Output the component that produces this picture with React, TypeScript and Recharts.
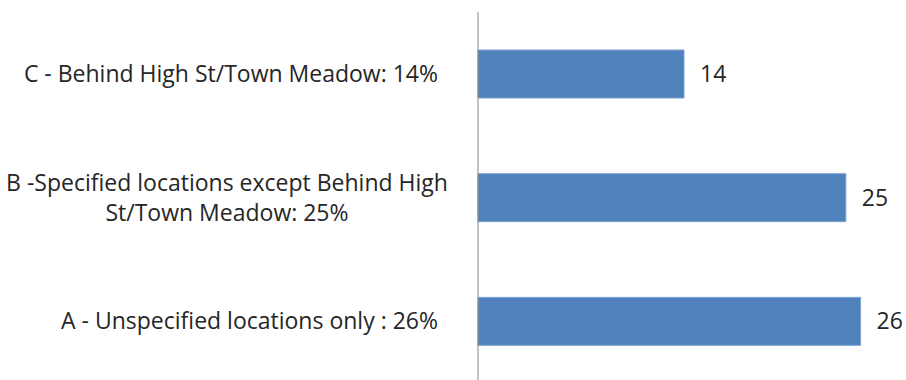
import React from "react";
import { BarChart, Bar, XAxis, YAxis, LabelList } from "recharts";

const categories = [
  "C - Behind High St/Town Meadow: 14%",
  "B -Specified locations except Behind High St/Town Meadow: 25%",
  "A - Unspecified locations only : 26%",
];
const categoryLines = [
  ["C - Behind High St/Town Meadow: 14%"],
  ["B -Specified locations except Behind High", "St/Town Meadow: 25%"],
  ["A - Unspecified locations only : 26%"],
];
const values = [14, 25, 26];

const data = categories.map((c, i) => ({ name: c, value: values[i] }));

const FONT = "'Open Sans', sans-serif";
const FS = 23;

const YTick = (props: any) => {
  const { x, y, index } = props;
  const lines = categoryLines[index] || [String(props.payload.value)];
  if (lines.length === 1) {
    return (
      <text x={x - 32} y={y} dy="0.35em" textAnchor="end" fontFamily={FONT} fontSize={FS} fill="#262626">
        {lines[0]}
      </text>
    );
  }
  const lh = 30;
  const start = -((lines.length - 1) * lh) / 2;
  return (
    <g>
      {lines.map((l: string, i: number) => (
        <text key={i} x={x - 243} y={y + start + i * lh} dy="0.35em" textAnchor="middle" fontFamily={FONT} fontSize={FS} fill="#262626">
          {l}
        </text>
      ))}
    </g>
  );
};

export default function App() {
  return (
    <div style={{ position: "absolute", left: 0, top: 0, width: 906, height: 380, overflow: "hidden", background: "#fff" }}>
      <BarChart
        width={906}
        height={390}
        data={data}
        layout="vertical"
        margin={{ top: 12, right: 16, bottom: 7, left: 0 }}
      >
        <XAxis type="number" domain={[0, 28]} hide />
        <YAxis
          type="category"
          dataKey="name"
          width={478}
          axisLine={{ stroke: "#868686", strokeWidth: 1 }}
          tickLine={false}
          tick={<YTick />}
          interval={0}
        />
        <Bar dataKey="value" fill="#4F81BD" stroke="#7FA3D0" strokeWidth={1} barSize={48} isAnimationActive={false}>
          <LabelList dataKey="value" position="right" offset={16} fontFamily={FONT} fontSize={FS} fill="#262626" />
        </Bar>
      </BarChart>
    </div>
  );
}
